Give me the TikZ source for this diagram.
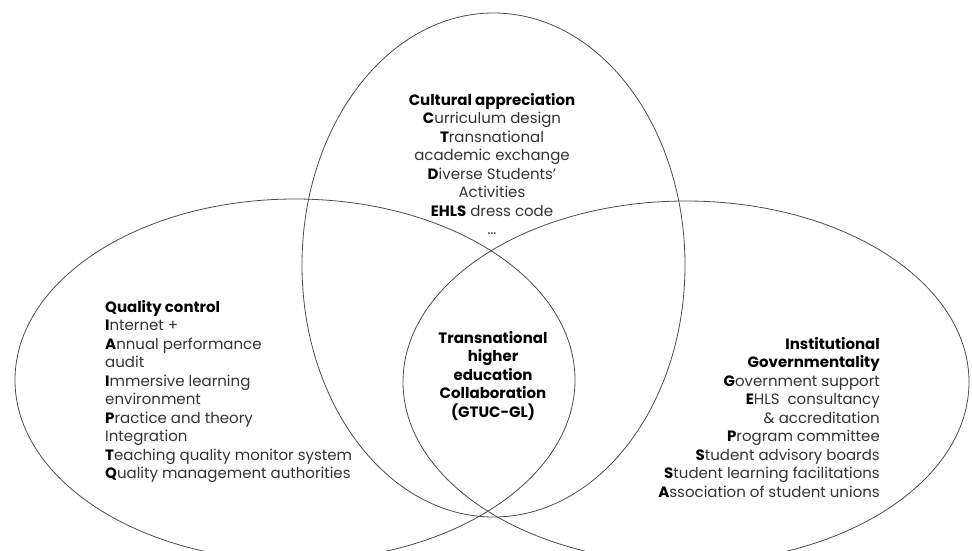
\documentclass[tikz,border=0pt]{standalone}
\usepackage{fontspec}
\setmainfont{Poppins}
\usepackage{tikz}

\tikzset{
  setline/.style={draw=black!70, line width=0.8pt},
  settext/.style={inner sep=0pt, text=black!80,
    font=\fontsize{15}{18.5}\selectfont},
}
\newcommand{\hd}[1]{\textbf{\textcolor{black}{#1}}}

\begin{document}
\begin{tikzpicture}[x=1pt,y=-1pt]
\useasboundingbox (0,0) rectangle (972,550);

\coordinate (Q) at (295,380);
\coordinate (G) at (686,382);
\coordinate (C) at (493.5,265);

\draw[setline] (Q) ellipse [x radius=280pt, y radius=181pt];
\draw[setline] (G) ellipse [x radius=283pt, y radius=181pt];
\draw[setline] (C) ellipse [x radius=191.5pt, y radius=252pt];

\node[settext, anchor=north, align=center] (cult) at (492,93)
  {\hd{Cultural appreciation}\\ \hd{C}urriculum design\\ \hd{T}ransnational\\
   academic exchange\\ \hd{D}iverse Students'\\ Activities\\
   \hd{EHLS} dress code\\ \dots};

\node[settext, anchor=north west, align=left] (qual) at (105,300)
  {\hd{Quality control}\\ \hd{I}nternet +\\ \hd{A}nnual performance\\ audit\\
   \hd{I}mmersive learning\\ environment\\ \hd{P}ractice and theory\\
   Integration\\ \hd{T}eaching quality monitor system\\
   \hd{Q}uality management authorities};

\node[settext, anchor=north east, align=right] (inst) at (880,337)
  {\hd{Institutional}\\ \hd{Governmentality}\\ \hd{G}overnment support\\
   \hd{E}HLS\ \ consultancy\\ \& accreditation\\ \hd{P}rogram committee\\
   \hd{S}tudent advisory boards\\ \hd{S}tudent learning facilitations\\
   \hd{A}ssociation of student unions};

\node[settext, anchor=north, align=center] (thec) at (493,331)
  {\hd{Transnational}\\ \hd{higher}\\ \hd{education}\\ \hd{Collaboration}\\
   \hd{(GTUC-GL)}};

\end{tikzpicture}
\end{document}
